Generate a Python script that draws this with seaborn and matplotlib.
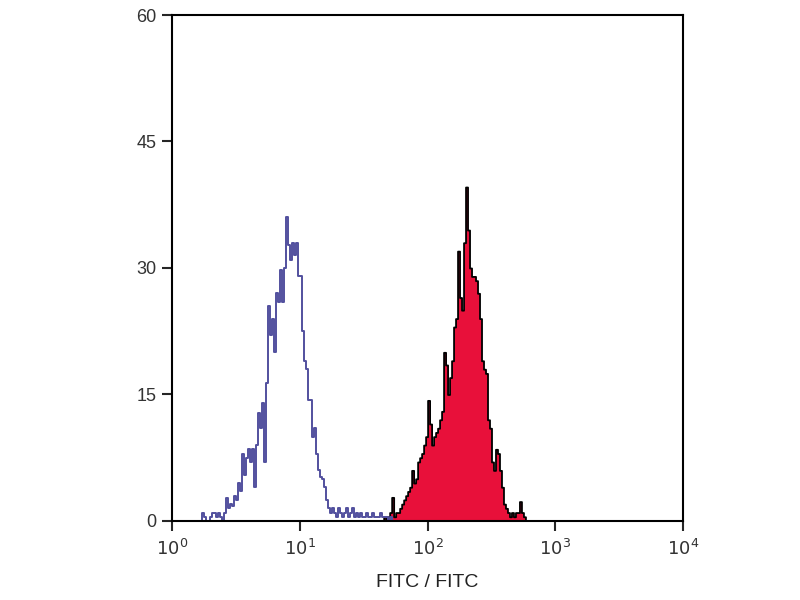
import numpy as np
import pandas as pd
import seaborn as sns
import matplotlib.pyplot as plt

# 256 log channels over 4 decades (64 per decade)
CH_PER_DECADE = 64

# isotype control (blue outline), counts from channel 14 onward
blue_start = 14
blue_counts = [0, 1, 0.5, 0, 0, 0.5, 1, 1, 0.5, 1,
               0.5, 0, 1, 2.7, 1.5, 2, 1.8, 3, 2.5, 4.5,
               3.5, 8, 5.5, 7.5, 8.5, 7, 8.5, 4, 9, 12.8,
               11, 14, 7, 16.4, 25.5, 22, 24, 20, 27, 26,
               29.8, 26, 30, 36, 32.7, 31, 33, 31.5, 33, 29,
               29, 22.5, 19, 18, 14.3, 14.3, 10, 11, 8, 6,
               5.2, 5, 4, 2.5, 1.5, 1, 1.5, 1, 0.5, 1.5,
               1, 0.5, 1, 1.5, 0.5, 1, 1.5, 0.5, 1, 0.5,
               1, 0.5, 0.5, 1, 0.5, 0.5, 1, 0.5, 0.5, 0.5,
               1, 0.5, 0.5, 0.5, 0, 0.5]

# stained sample (red filled), counts from channel 106 onward
red_start = 106
red_counts = [0.5, 0, 0.5, 1, 2.8, 0.5, 1, 1, 1.5, 2,
              2.5, 3, 3.5, 4, 6, 4.5, 5, 7, 7.5, 8,
              9, 10, 14.3, 11.5, 9, 10, 10.5, 11, 12, 13,
              20, 18.5, 15, 17, 19, 23, 24, 32, 26.5, 25,
              33, 39.6, 34.5, 30, 29, 29, 28.5, 27, 24, 19,
              18, 17.5, 12, 11, 7, 6, 8.5, 8, 6, 4,
              2, 1.5, 1, 0.5, 1, 0.5, 1, 1, 2.3, 1,
              0.5]

y_ticks = [0, 15, 30, 45, 60]
x_ticks = [1, 10, 100, 1000, 10000]
x_tick_labels = [r"$10^{0}$", r"$10^{1}$", r"$10^{2}$", r"$10^{3}$", r"$10^{4}$"]


def to_frame(start, counts):
    ch = np.arange(start, start + len(counts))
    return pd.DataFrame({"fitc": 10 ** ((ch + 0.5) / CH_PER_DECADE),
                         "count": counts})


blue_df = to_frame(blue_start, blue_counts)
red_df = to_frame(red_start, red_counts)

sns.set_style("ticks")
plt.rcParams["font.family"] = ["Liberation Sans", "DejaVu Sans"]

fig = plt.figure(figsize=(8, 6), dpi=100)
ax = fig.add_axes([0.215, 0.1317, 0.639, 0.8433])

hist_kws = dict(x="fitc", weights="count", log_scale=True,
                binwidth=1 / CH_PER_DECADE, binrange=(0, 4),
                element="step", stat="count", ax=ax)

sns.histplot(data=red_df, fill=True, color="#e8103a", alpha=1,
             edgecolor="black", linewidth=1.3, **hist_kws)
sns.histplot(data=blue_df, fill=False, color="#52509e",
             linewidth=1.4, **hist_kws)

ax.set_xlim(1, 10000)
ax.set_ylim(0, 60)
ax.set_xticks(x_ticks)
ax.set_xticklabels(x_tick_labels)
ax.minorticks_off()
ax.set_yticks(y_ticks)
ax.set_ylabel("")
ax.set_xlabel("FITC / FITC", fontsize=14, color="#222222", labelpad=11)

for s in ax.spines.values():
    s.set_linewidth(1.5)
    s.set_color("black")
    s.set_visible(True)
ax.tick_params(axis="both", length=7, width=1.5, direction="out",
               labelsize=13, labelcolor="#333333", pad=4)
ax.tick_params(axis="x", pad=6)

fig.savefig("out.png", dpi=100)
